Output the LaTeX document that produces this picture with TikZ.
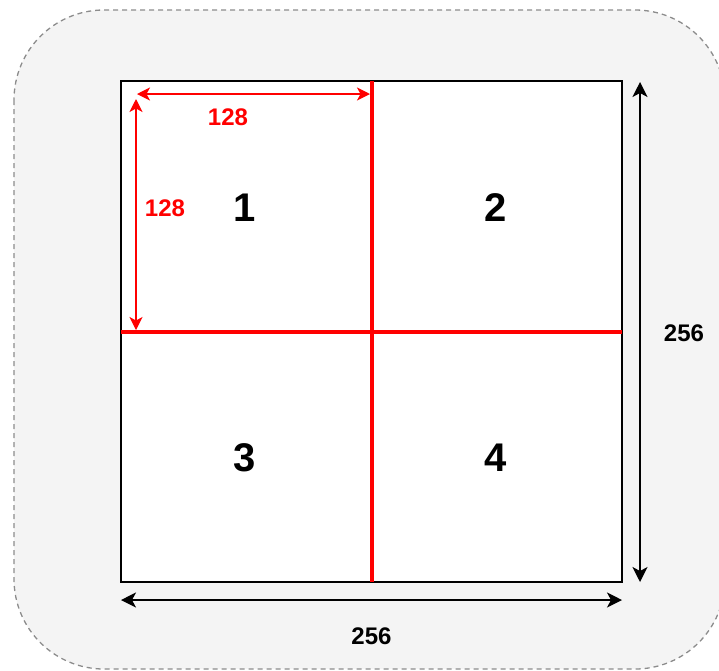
\documentclass[tikz,border=0pt]{standalone}
\usepackage{fontspec}
\setmainfont{Liberation Sans}
\usetikzlibrary{arrows.meta}
\definecolor{bgfill}{HTML}{F4F4F4}
\definecolor{bgline}{HTML}{8C8C8C}
\definecolor{cutred}{HTML}{FF0000}
\tikzset{
  panel/.style={fill=bgfill, draw=bgline, line width=1.3pt, dash pattern=on 5pt off 4pt, rounded corners=90pt},
  block/.style={draw=black, line width=1.5pt, fill=white},
  cutline/.style={draw=cutred, line width=4pt},
  dimblack/.style={draw=black, line width=1.6pt, {Stealth[length=15pt,width=15pt,inset=4pt]}-{Stealth[length=15pt,width=15pt,inset=4pt]}},
  dimred/.style={draw=cutred, line width=1.5pt, {Stealth[length=13pt,width=13pt,inset=3.5pt]}-{Stealth[length=13pt,width=13pt,inset=3.5pt]}},
  biglabel/.style={font=\bfseries\fontsize{40}{44}\selectfont, text=black, inner sep=0pt},
  dimlabel/.style={font=\bfseries\fontsize{24}{28}\selectfont, text=black, inner sep=0pt},
  redlabel/.style={font=\bfseries\fontsize{24}{28}\selectfont, text=cutred, inner sep=0pt}
}
\begin{document}
\begin{tikzpicture}[x=1pt,y=-1pt]
\useasboundingbox (0,0) rectangle (719,670);
\begin{scope}
\clip (0,0) rectangle (719,670);
\path[panel] (14,10) rectangle (725,669);
\end{scope}
% main square
\path[block] (121,81) rectangle (622,582);
\coordinate (midtop) at (371.5,81);
\coordinate (midbot) at (371.5,582);
\coordinate (midleft) at (121,331.5);
\coordinate (midright) at (622,331.5);
\draw[cutline] (midtop) -- (midbot);
\draw[cutline] (midleft) -- (midright);
% quadrant labels
\node[biglabel] (q1) at (244.5,208) {1};
\node[biglabel] (q2) at (495.5,208) {2};
\node[biglabel] (q3) at (244.5,458) {3};
\node[biglabel] (q4) at (495.5,458) {4};
% red dimension arrows
\coordinate (rh1) at (137,94);
\coordinate (rh2) at (370,94);
\coordinate (rv1) at (136,99);
\coordinate (rv2) at (136,330);
\draw[dimred] (rh1) -- (rh2);
\draw[dimred] (rv1) -- (rv2);
\node[redlabel] (r128h) at (228,117) {128};
\node[redlabel] (r128v) at (165,208) {128};
% black dimension arrows
\coordinate (bv1) at (640,82);
\coordinate (bv2) at (640,582);
\coordinate (bh1) at (121,600);
\coordinate (bh2) at (622,600);
\draw[dimblack] (bv1) -- (bv2);
\draw[dimblack] (bh1) -- (bh2);
\node[dimlabel] (d256v) at (684,333) {256};
\node[dimlabel] (d256h) at (371.5,636) {256};
\end{tikzpicture}
\end{document}
